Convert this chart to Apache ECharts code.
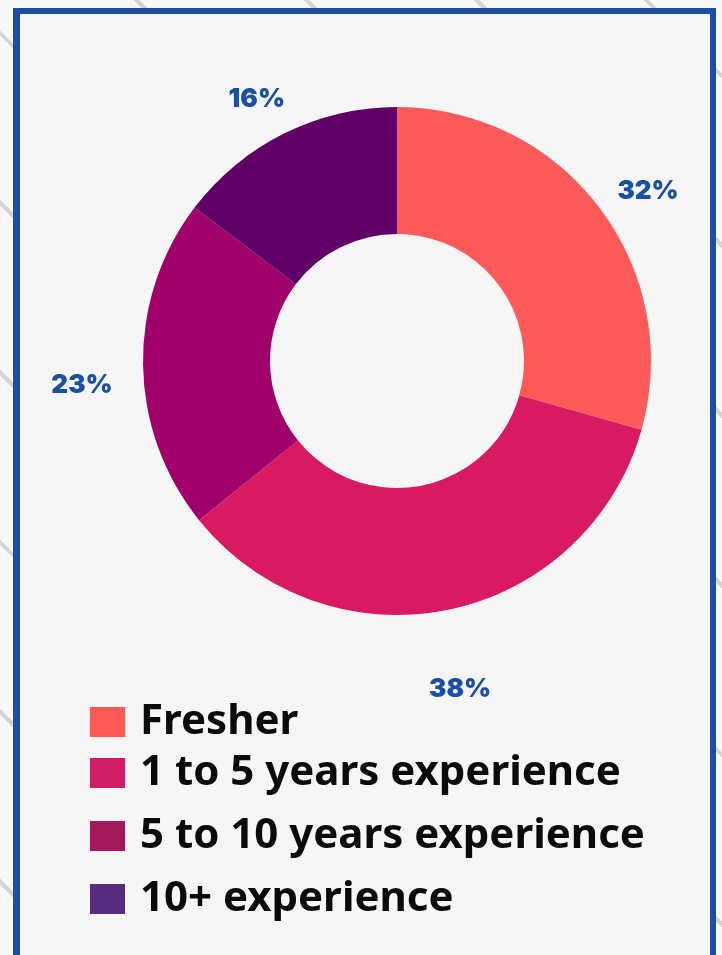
<!DOCTYPE html>
<html>
<head>
<meta charset="utf-8">
<script src="https://cdn.jsdelivr.net/npm/echarts@6/dist/echarts.min.js"></script>
<style>
  html, body {
    margin: 0;
    padding: 0;
    width: 722px;
    height: 955px;
    overflow: hidden;
    background: repeating-linear-gradient(45deg, #f7f8fa 0 50px, #d4d4d6 50px 54px, #f7f8fa 54px 120px);
  }
  .panel {
    position: absolute;
    left: 13px;
    top: 8px;
    width: 690px;
    height: 990px;
    background: #f6f6f6;
    border: 7px solid #1b4fa3;
    border-top-width: 6px;
    border-right-width: 6px;
  }
  #chart {
    position: absolute;
    left: 0;
    top: 0;
    width: 722px;
    height: 955px;
  }
</style>
</head>
<body>
<div class="panel"></div>
<div id="chart"></div>
<script>
// 数据
const categories = ['Fresher', '1 to 5 years experience', '5 to 10 years experience', '10+ experience']
const values = [32, 38, 23, 16]
const sliceColors = ['#ff5a5a', '#d81a63', '#a0006a', '#600066']
const legendColors = ['#ff5a55', '#d01e64', '#a3185a', '#552c80']

const chart = echarts.init(document.getElementById('chart'))

const pieData = categories.map((name, i) => ({
  name: name,
  value: values[i],
  itemStyle: { color: sliceColors[i] },
}))

// 透明外环，只用来放百分比标签
const labelData = categories.map((name, i) => ({
  name: name,
  value: values[i],
  itemStyle: { color: 'rgba(0,0,0,0)' },
}))

const legendItems = categories.map((name, i) => ({
  name: name,
  itemStyle: { color: legendColors[i] },
}))

const legendText = {
  color: '#0a0a0a',
  fontFamily: 'Noto Sans',
  fontWeight: 'bold',
  fontSize: 42,
  padding: [0, 0, 0, 10],
}

const option = {
  animation: false,
  legend: [
    {
      data: legendItems.slice(0, 1),
      orient: 'vertical',
      left: 90,
      top: 701,
      padding: 0,
      icon: 'rect',
      itemWidth: 35,
      itemHeight: 30,
      itemGap: 10,
      textStyle: legendText,
      selectedMode: false,
    },
    {
      data: legendItems.slice(1),
      orient: 'vertical',
      left: 90,
      top: 752,
      padding: 0,
      icon: 'rect',
      itemWidth: 35,
      itemHeight: 30,
      itemGap: 21,
      textStyle: legendText,
      selectedMode: false,
    },
  ],
  series: [
    {
      type: 'pie',
      center: [397, 361],
      radius: [127, 254],
      startAngle: 90,
      clockwise: true,
      label: { show: false },
      labelLine: { show: false },
      data: pieData,
    },
    {
      type: 'pie',
      center: [397, 361],
      radius: [300, 324],
      startAngle: 90,
      clockwise: true,
      silent: true,
      label: {
        show: true,
        position: 'inside',
        formatter: '{c}%',
        color: '#1b4fa3',
        fontFamily: 'Inter',
        fontWeight: 900,
        fontSize: 26,
        offset: [0, 20],
      },
      labelLine: { show: false },
      data: labelData,
    },
  ],
}

chart.setOption(option)
</script>
</body>
</html>
